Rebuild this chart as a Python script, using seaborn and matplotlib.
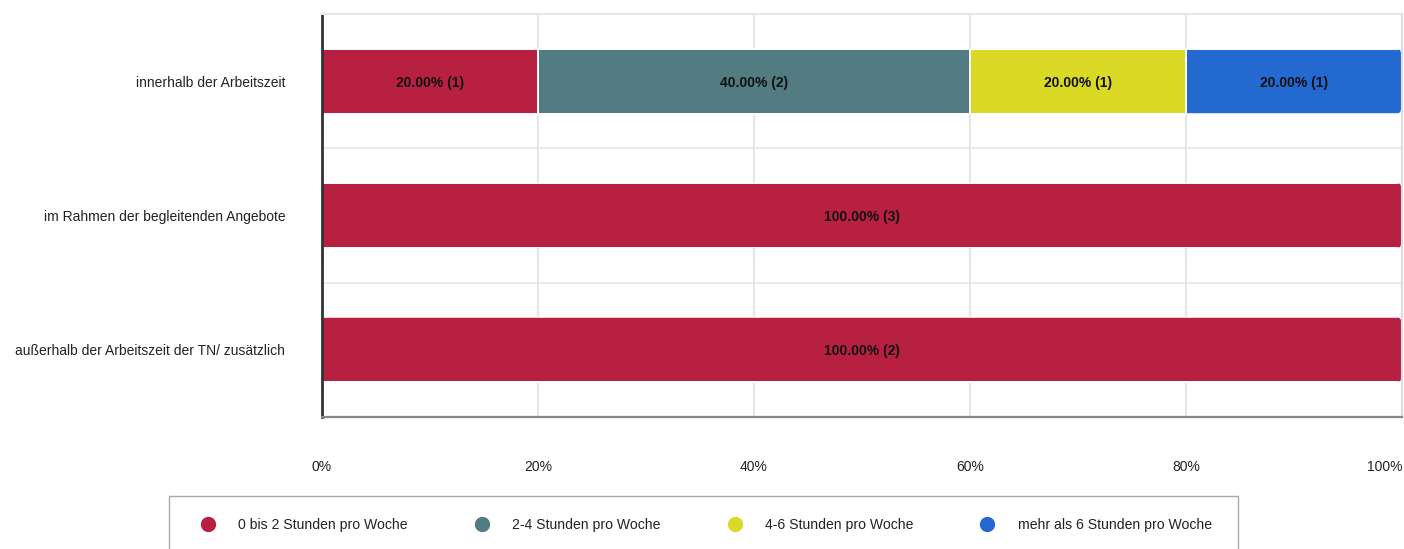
import numpy as np
import pandas as pd
import matplotlib
matplotlib.use("Agg")
import matplotlib.pyplot as plt
from matplotlib.lines import Line2D
from matplotlib.patches import FancyBboxPatch, Rectangle
from matplotlib.transforms import IdentityTransform
import seaborn as sns

# Survey data: number of answers per time band
categories = [
    "innerhalb der Arbeitszeit",
    "im Rahmen der begleitenden Angebote",
    "außerhalb der Arbeitszeit der TN/ zusätzlich",
]
series = [
    "0 bis 2 Stunden pro Woche",
    "2-4 Stunden pro Woche",
    "4-6 Stunden pro Woche",
    "mehr als 6 Stunden pro Woche",
]
counts = {
    "0 bis 2 Stunden pro Woche": [1, 3, 2],
    "2-4 Stunden pro Woche": [2, 0, 0],
    "4-6 Stunden pro Woche": [1, 0, 0],
    "mehr als 6 Stunden pro Woche": [1, 0, 0],
}
colors = ["#B82042", "#527B82", "#D9D926", "#2369CF"]
xticks = [0, 0.2, 0.4, 0.6, 0.8, 1.0]
xtick_labels = ["0%", "20%", "40%", "60%", "80%", "100%"]

sns.set_theme(style="white")
plt.rcParams["font.family"] = ["Liberation Sans", "DejaVu Sans"]

df = pd.DataFrame(counts, index=categories)
totals = df.sum(axis=1)
shares = df.div(totals, axis=0)
cum = shares.cumsum(axis=1)

fig = plt.figure(figsize=(14.04, 5.49), dpi=100)
ax = fig.add_axes([322 / 1404, 1 - 417 / 549, (1402 - 322) / 1404, (417 - 14) / 549])

# Stacked bars: draw cumulative totals from the last series to the first
for s, c in reversed(list(zip(series, colors))):
    plot_df = pd.DataFrame({"category": categories, "value": cum[s].values})
    sns.barplot(data=plot_df, x="value", y="category", color=c, orient="h",
                width=0.485, edgecolor="white", linewidth=1.4, saturation=1,
                ax=ax, zorder=3)

ax.set_xlim(0, 1)
ax.set_ylim(2.5, -0.5)
ax.set_xlabel("")
ax.set_ylabel("")

# Segment labels
for i, cat in enumerate(categories):
    start = 0.0
    for s in series:
        share = shares.loc[cat, s]
        n = df.loc[cat, s]
        if n > 0:
            ax.text(start + share / 2, i + 0.01, f"{share * 100:.2f}% ({n})",
                    ha="center", va="center", fontsize=10, fontweight="bold",
                    color="#111111", zorder=5)
        start += share

# Grid and frame
ax.set_xticks(xticks)
ax.set_xticklabels(xtick_labels)
ax.set_yticks(range(len(categories)))
ax.set_yticks([0.5, 1.5], minor=True)
ax.grid(axis="x", which="major", color="#e6e6e6", linewidth=1.5, zorder=0)
ax.grid(axis="y", which="minor", color="#e6e6e6", linewidth=1.2, zorder=0)
ax.grid(axis="y", which="major", visible=False)
ax.set_axisbelow(True)
ax.tick_params(axis="both", which="both", length=0)
ax.tick_params(axis="x", pad=31, labelsize=10, labelcolor="#222222")
ax.tick_params(axis="y", pad=26.5, labelsize=10, labelcolor="#222222")
ax.get_xticklabels()[-1].set_horizontalalignment("right")

ax.spines["left"].set_color("#333333")
ax.spines["left"].set_linewidth(2)
ax.spines["bottom"].set_color("#888888")
ax.spines["bottom"].set_linewidth(1.6)
ax.spines["top"].set_color("#e6e6e6")
ax.spines["top"].set_linewidth(1.5)
ax.spines["right"].set_color("#dddddd")
ax.spines["right"].set_linewidth(1.5)
for sp in ax.spines.values():
    sp.set_zorder(4)

# Rounded right ends for bars that reach 100%
fig.canvas.draw()
for p in ax.patches:
    x0, w = p.get_x(), p.get_width()
    if abs(x0 + w - 1.0) < 1e-9:
        bb = p.get_window_extent()
        clip = FancyBboxPatch((bb.x0 - 30, bb.y0), bb.width + 30 - 1, bb.height,
                              boxstyle="round,pad=0,rounding_size=5",
                              transform=IdentityTransform())
        p.set_clip_path(clip)

# Legend with a box running past the bottom edge
fig.add_artist(Rectangle((169 / 1404, 1 - 560 / 549), (1238 - 169) / 1404, (560 - 496) / 549,
                         transform=fig.transFigure, facecolor="none",
                         edgecolor="#aaaaaa", linewidth=1))
handles = [Line2D([0], [0], marker="o", linestyle="none", markersize=10,
                  markerfacecolor=c, markeredgecolor=c) for c in colors]
fig.legend(handles, series, loc="center left", ncol=4, frameon=False,
           bbox_to_anchor=(201 / 1404, 1 - 525 / 549), borderpad=0,
           borderaxespad=0, handlelength=1.0, handletextpad=1.66,
           columnspacing=4.78, fontsize=10.1, labelcolor="#222222")

fig.savefig("out.png", dpi=100)
